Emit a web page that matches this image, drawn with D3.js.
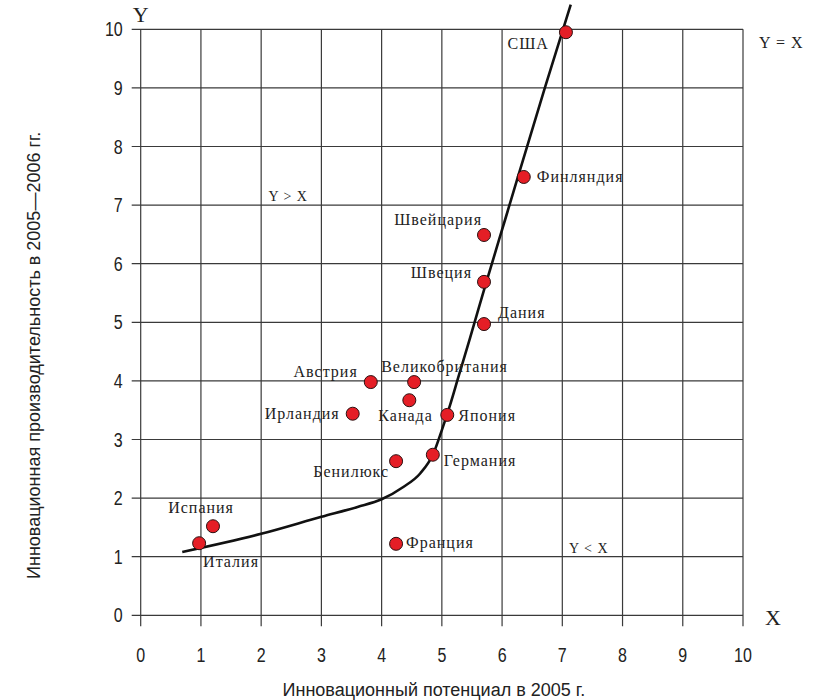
<!DOCTYPE html>
<html>
<head>
<meta charset="utf-8">
<script src="https://cdn.jsdelivr.net/npm/d3@7/dist/d3.min.js"></script>
<style>
  html, body { margin: 0; padding: 0; background: #fff; }
  svg { display: block; }
  .tick-label { font-family: "Liberation Sans Narrow", "Liberation Sans", Arial, sans-serif; font-size: 20px; fill: #222; }
  .axis-title { font-family: "Liberation Sans", Arial, sans-serif; font-size: 18px; fill: #222; }
  .pt-label { font-family: "Liberation Serif", "Times New Roman", serif; font-size: 16px; fill: #222; letter-spacing: 1px; }
  .zone-label { font-family: "Liberation Serif", "Times New Roman", serif; font-size: 14px; fill: #222; letter-spacing: 1px; }
  .axis-letter { font-family: "Liberation Serif", "Times New Roman", serif; font-size: 22px; fill: #222; }
</style>
</head>
<body>
<div id="chart"></div>
<script>
// ---- data ----
const countries = ["США", "Финляндия", "Швейцария", "Швеция", "Дания", "Австрия", "Великобритания", "Канада", "Ирландия", "Япония", "Бенилюкс", "Германия", "Испания", "Италия", "Франция"];
const potential = [7.06, 6.36, 5.70, 5.70, 5.70, 3.82, 4.54, 4.46, 3.52, 5.09, 4.24, 4.85, 1.20, 0.97, 4.24];
const productivity = [9.95, 7.48, 6.49, 5.69, 4.97, 3.98, 3.98, 3.67, 3.44, 3.42, 2.63, 2.74, 1.52, 1.23, 1.22];

const trendX = [0.69, 2.0, 3.0, 3.6, 4.0, 4.36, 4.64, 4.86, 5.0, 5.14, 5.27, 5.47, 5.72, 6.05, 6.71, 7.14];
const trendY = [1.08, 1.39, 1.68, 1.85, 1.98, 2.19, 2.42, 2.76, 3.16, 3.60, 4.05, 4.74, 5.62, 6.75, 9.00, 10.42];

const xTicks = [0, 1, 2, 3, 4, 5, 6, 7, 8, 9, 10];
const yTicks = [0, 1, 2, 3, 4, 5, 6, 7, 8, 9, 10];

const xTitle = "Инновационный потенциал в 2005 г.";
const yTitle = "Инновационная производительность в  2005—2006 гг.";
const zoneLabels = ["Y > X", "Y < X", "Y = X"];

// ---- layout (label placement, pixels relative to point) ----
const labelPlacement = {
  "США": [-17, 17, "end"],
  "Финляндия": [13, 5, "start"],
  "Швейцария": [-2, -10, "end"],
  "Швеция": [-12, -4, "end"],
  "Дания": [14, -6, "start"],
  "Австрия": [-13, -5, "end"],
  "Великобритания": [-33, -10, "start"],
  "Канада": [-31, 21, "start"],
  "Ирландия": [-13, 5, "end"],
  "Япония": [11, 6, "start"],
  "Бенилюкс": [-7, 16, "end"],
  "Германия": [11, 11, "start"],
  "Испания": [21, -13, "end"],
  "Италия": [4, 24, "start"],
  "Франция": [10, 4, "start"]
};

const W = 826, H = 700;
const margin = { left: 140.7, right: W - 743, top: 29.3, bottom: H - 615.3 };

const svg = d3.select("#chart").append("svg").attr("width", W).attr("height", H);

const x = d3.scaleLinear().domain([0, 10]).range([margin.left, W - margin.right]);
const y = d3.scaleLinear().domain([0, 10]).range([H - margin.bottom, margin.top]);

const gridColor = "#3a3a3a";

// horizontal grid lines (extend left as ticks)
svg.append("g").selectAll("line").data(yTicks).join("line")
  .attr("x1", x(0) - 9).attr("x2", x(10))
  .attr("y1", d => y(d)).attr("y2", d => y(d))
  .attr("stroke", gridColor).attr("stroke-width", 1.2);

// vertical grid lines (extend down as ticks)
svg.append("g").selectAll("line").data(xTicks).join("line")
  .attr("y1", y(10)).attr("y2", y(0) + 11)
  .attr("x1", d => x(d)).attr("x2", d => x(d))
  .attr("stroke", gridColor).attr("stroke-width", 1.2);

// tick labels (condensed)
svg.append("g").selectAll("text").data(xTicks).join("text")
  .attr("class", "tick-label")
  .attr("transform", d => `translate(${x(d)}, ${y(0) + 47}) scale(0.8, 1)`)
  .attr("text-anchor", "middle")
  .text(d => d);

svg.append("g").selectAll("text").data(yTicks).join("text")
  .attr("class", "tick-label")
  .attr("transform", d => `translate(${x(0) - 18}, ${y(d) + 7}) scale(0.8, 1)`)
  .attr("text-anchor", "end")
  .text(d => d);

// axis titles
svg.append("text").attr("class", "axis-title")
  .attr("x", x(5) - 8).attr("y", 696)
  .attr("text-anchor", "middle")
  .text(xTitle);

svg.append("text").attr("class", "axis-title")
  .attr("transform", `translate(40, ${y(5) + 33}) rotate(-90)`)
  .attr("text-anchor", "middle")
  .text(yTitle);

// axis letters
svg.append("text").attr("class", "axis-letter")
  .attr("x", x(0)).attr("y", 22).attr("text-anchor", "middle").text("Y");
svg.append("text").attr("class", "axis-letter")
  .attr("x", x(10) + 30).attr("y", y(0) + 10).attr("text-anchor", "middle").text("X");

// zone labels
svg.append("text").attr("class", "zone-label").attr("x", x(2.12)).attr("y", y(7) - 4).text(zoneLabels[0]);
svg.append("text").attr("class", "zone-label").attr("x", x(7.11)).attr("y", y(1) - 4).text(zoneLabels[1]);
svg.append("text").attr("class", "zone-label").style("font-size", "16px").attr("x", x(10) + 16).attr("y", y(10) + 19).text(zoneLabels[2]);

// trend curve
const trend = trendX.map((v, i) => [v, trendY[i]]);
const line = d3.line().x(d => x(d[0])).y(d => y(d[1])).curve(d3.curveMonotoneX);
svg.append("path").datum(trend)
  .attr("d", line)
  .attr("fill", "none").attr("stroke", "#111").attr("stroke-width", 2.6);

// points
const pts = countries.map((c, i) => ({ name: c, x: potential[i], y: productivity[i] }));
svg.append("g").selectAll("circle").data(pts).join("circle")
  .attr("cx", d => x(d.x)).attr("cy", d => y(d.y)).attr("r", 6.5)
  .attr("fill", "#e51e26").attr("stroke", "#2a1010").attr("stroke-width", 1);

// point labels
svg.append("g").selectAll("text").data(pts).join("text")
  .attr("class", "pt-label")
  .attr("x", d => x(d.x) + labelPlacement[d.name][0])
  .attr("y", d => y(d.y) + labelPlacement[d.name][1])
  .attr("text-anchor", d => labelPlacement[d.name][2])
  .text(d => d.name);
</script>
</body>
</html>
